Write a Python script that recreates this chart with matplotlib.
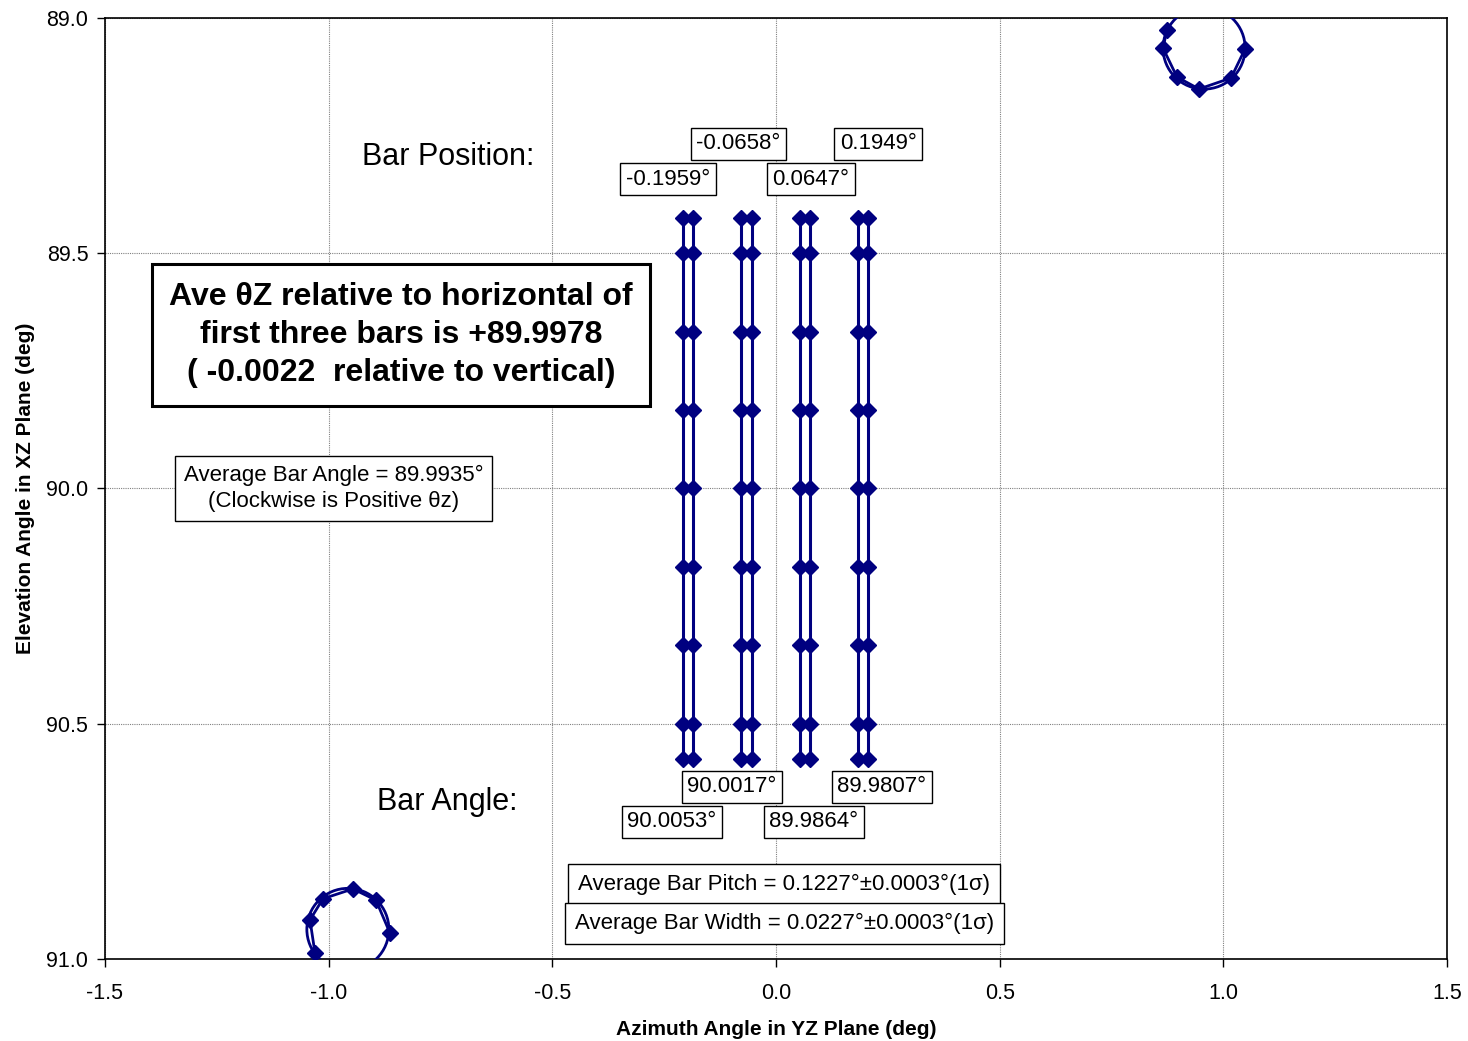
import matplotlib
matplotlib.use('Agg')
import matplotlib.pyplot as plt
from matplotlib.patches import Ellipse
import numpy as np

plt.rcParams['font.family'] = ['Liberation Sans', 'DejaVu Sans']

# Bar centre positions (deg azimuth) and measured bar angles
bar_pos = [-0.1959, -0.0658, 0.0647, 0.1949]
bar_angle = [90.0053, 90.0017, 89.9864, 89.9807]
bar_width = 0.0227
bar_pitch = 0.1227
pitch_sigma = 0.0003
width_sigma = 0.0003
avg_bar_angle = 89.9935
ave_theta_z = 89.9978

# Elevation samples along each bar edge
elev = [89.425, 89.5, 89.667, 89.833, 90.0, 90.167, 90.333, 90.5, 90.575]

# Fiducial rings: centre, radii and sampled points
ring_ll_center = (-0.957, 90.937)
ring_ll_x = [-1.0306, -1.0417, -1.0127, -0.9456, -0.8942, -0.8629]
ring_ll_y = [90.987, 90.917, 90.872, 90.851, 90.875, 90.945]
ring_tr_center = (0.957, 89.064)
ring_tr_x = [0.8741, 0.8651, 0.8964, 0.9456, 1.0172, 1.0485]
ring_tr_y = [89.0255, 89.0638, 89.1254, 89.1509, 89.1275, 89.0659]
ring_rx = 0.0917
ring_ry = 0.0871

navy = '#000080'

fig = plt.figure(figsize=(14.68, 10.41), dpi=100)
ax = fig.add_axes([0.0715, 0.0788, 0.9142, 0.9039])

# bar edges
for c in bar_pos:
    for edge in (c - bar_width / 2, c + bar_width / 2):
        ax.plot([edge] * len(elev), elev, color=navy, lw=2.2, marker='D',
                markersize=8.5, markeredgecolor=navy, zorder=3)

# rings
for (cx, cy), xs, ys in [(ring_ll_center, ring_ll_x, ring_ll_y),
                         (ring_tr_center, ring_tr_x, ring_tr_y)]:
    ax.add_patch(Ellipse((cx, cy), 2 * ring_rx, 2 * ring_ry, fill=False,
                         edgecolor=navy, lw=2, zorder=3))
    ax.plot(xs, ys, color=navy, lw=2, marker='D', markersize=8.5, zorder=3)

ax.set_xlim(-1.5, 1.5)
ax.set_ylim(91.0, 89.0)
ax.set_xticks(np.arange(-1.5, 1.51, 0.5))
ax.set_yticks(np.arange(89.0, 91.01, 0.5))
ax.set_xticklabels([f'{v:.1f}' for v in np.arange(-1.5, 1.51, 0.5)])
ax.set_yticklabels([f'{v:.1f}' for v in np.arange(89.0, 91.01, 0.5)])
ax.tick_params(labelsize=15.5, direction='out', length=6, width=1)
ax.tick_params(axis='x', pad=11)
ax.tick_params(axis='y', pad=6)
ax.grid(True, color='#808080', linestyle=(0, (1, 1)), lw=0.8)
for s in ax.spines.values():
    s.set_linewidth(1.2)
    s.set_color('black')

ax.set_xlabel('Azimuth Angle in YZ Plane (deg)', fontsize=15, fontweight='bold', labelpad=12)
ax.set_ylabel('Elevation Angle in XZ Plane (deg)', fontsize=15, fontweight='bold', labelpad=8)

box = dict(boxstyle='square,pad=0.25', facecolor='white', edgecolor='black', lw=1)

# position labels above the bars, angle labels below
pos_xy = [(-0.2414, 89.343), (-0.0838, 89.267), (0.0782, 89.343), (0.229, 89.267)]
ang_xy = [(-0.2325, 90.708), (-0.0984, 90.634), (0.085, 90.708), (0.237, 90.634)]
for p, (x, y) in zip(bar_pos, pos_xy):
    ax.text(x, y, f'{p:.4f}°', ha='center', va='center', fontsize=16, bbox=box, zorder=5)
for a, (x, y) in zip(bar_angle, ang_xy):
    ax.text(x, y, f'{a:.4f}°', ha='center', va='center', fontsize=16, bbox=box, zorder=5)

ax.text(-0.733, 89.295, 'Bar Position:', ha='center', va='center', fontsize=22)
ax.text(-0.7355, 90.666, 'Bar Angle:', ha='center', va='center', fontsize=22)

ax.text(-0.838, 89.674,
        f'Ave θZ relative to horizontal of\nfirst three bars is +{ave_theta_z:.4f}\n'
        f'( {ave_theta_z - 90:.4f}  relative to vertical)',
        ha='center', va='center', fontsize=23, fontweight='bold', linespacing=1.36,
        bbox=dict(boxstyle='square,pad=0.55', facecolor='white', edgecolor='black', lw=2.2),
        zorder=5)

ax.text(-0.989, 90.0, f'Average Bar Angle = {avg_bar_angle:.4f}°\n(Clockwise is Positive θz)',
        ha='center', va='center', fontsize=16, linespacing=1.3,
        bbox=dict(boxstyle='square,pad=0.4', facecolor='white', edgecolor='black', lw=1),
        zorder=5)

stat_box = dict(boxstyle='square,pad=0.45', facecolor='white', edgecolor='black', lw=1)
ax.text(0.019, 90.841, f'Average Bar Pitch = {bar_pitch:.4f}°±{pitch_sigma:.4f}°(1σ)',
        ha='center', va='center', fontsize=16, bbox=stat_box, zorder=5)
ax.text(0.019, 90.925, f'Average Bar Width = {bar_width:.4f}°±{width_sigma:.4f}°(1σ)',
        ha='center', va='center', fontsize=16, bbox=stat_box, zorder=5)

fig.savefig('out.png', dpi=100)
